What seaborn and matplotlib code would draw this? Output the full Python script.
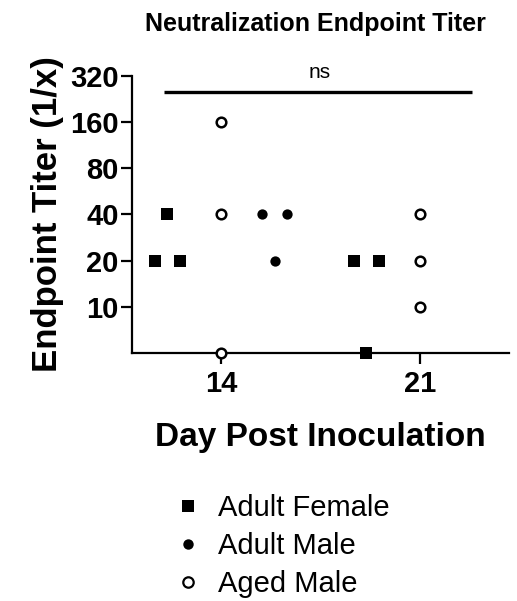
import numpy as np
import pandas as pd
import seaborn as sns
import matplotlib.pyplot as plt
from matplotlib.lines import Line2D

sns.set_style("ticks")
plt.rcParams["font.family"] = ["Liberation Sans", "DejaVu Sans"]
plt.rcParams["text.color"] = "black"
plt.rcParams["axes.labelcolor"] = "black"

# Datos
days = ["14", "21"]
groups = ["Adult Female", "Aged Male", "Adult Male"]
legend_order = ["Adult Female", "Adult Male", "Aged Male"]
titers = {
    "Adult Female": [[20, 40, 20], [20, 5, 20]],
    "Aged Male": [[160, 40, 5], [40, 20, 10]],
    "Adult Male": [[40, 20, 40], []],
}
y_ticks = [10, 20, 40, 80, 160, 320]
ns_level = 250

group_offset = {"Adult Female": -0.27, "Aged Male": 0.0, "Adult Male": 0.27}
spread = 0.063
styles = {
    "Adult Female": dict(marker="s", s=68, color="black", edgecolor="black", linewidth=0),
    "Adult Male": dict(marker="o", s=55, color="black", edgecolor="black", linewidth=0),
    "Aged Male": dict(marker="o", s=48, color="white", edgecolor="black", linewidth=1.8),
}

rows = []
for g in groups:
    for i, vals in enumerate(titers[g]):
        seen = {}
        for v in vals:
            n_same = vals.count(v)
            k = seen.get(v, 0)
            seen[v] = k + 1
            off = 0.0 if n_same == 1 else (-spread + 2 * spread * k / (n_same - 1))
            rows.append({"group": g, "x": i + group_offset[g] + off, "titer": v})
df = pd.DataFrame(rows)

fig, ax = plt.subplots(figsize=(5.17, 6.01), dpi=100)
fig.subplots_adjust(left=0.255, right=0.985, bottom=0.4126, top=0.874)

for g in groups:
    sub = df[df["group"] == g]
    sns.scatterplot(data=sub, x="x", y="titer", ax=ax, clip_on=False, zorder=5,
                    legend=False, **styles[g])

ax.set_yscale("log", base=2)
ax.set_ylim(5, 320)
ax.set_xlim(-0.447, 1.447)
ax.set_yticks(y_ticks)
ax.set_yticklabels([str(t) for t in y_ticks])
ax.minorticks_off()
ax.set_xticks(range(len(days)))
ax.set_xticklabels(days)

sns.despine(ax=ax)
for sp in ["left", "bottom"]:
    ax.spines[sp].set_linewidth(1.6)
    ax.spines[sp].set_color("black")
ax.tick_params(axis="both", width=1.6, length=8, color="black", labelcolor="black",
               labelsize=21, pad=1.5)
ax.tick_params(axis="x", pad=4.5)
for t in ax.get_xticklabels() + ax.get_yticklabels():
    t.set_fontweight("bold")

ax.set_xlabel("Day Post Inoculation", fontsize=24, fontweight="bold", labelpad=17)
ax.set_ylabel("Endpoint Titer (1/x)", fontsize=25, fontweight="bold", labelpad=4)
ax.set_title("Neutralization Endpoint Titer", fontsize=18, fontweight="bold", pad=32,
             x=(315 - 132) / (509 - 132))

# Linea de significancia
ax.plot([-0.286, 1.261], [ns_level, ns_level], color="black", linewidth=2.4,
        clip_on=False, solid_capstyle="butt")
ax.text(0.4975, 335, "ns", ha="center", va="center", fontsize=15)

handles = [Line2D([], [], linestyle="none", marker=styles[g]["marker"],
                  markersize=8 if g == "Adult Female" else 7.5,
                  markerfacecolor=styles[g]["color"], markeredgecolor="black",
                  markeredgewidth=1.6 if g == "Aged Male" else 0)
           for g in legend_order]
fig.legend(handles, legend_order, loc="upper left", bbox_to_anchor=(0.336, 0.178),
           frameon=False, fontsize=21, handletextpad=0.53, labelspacing=0.34,
           handlelength=1.0, borderaxespad=0, borderpad=0)

fig.savefig("out.png", dpi=100)
